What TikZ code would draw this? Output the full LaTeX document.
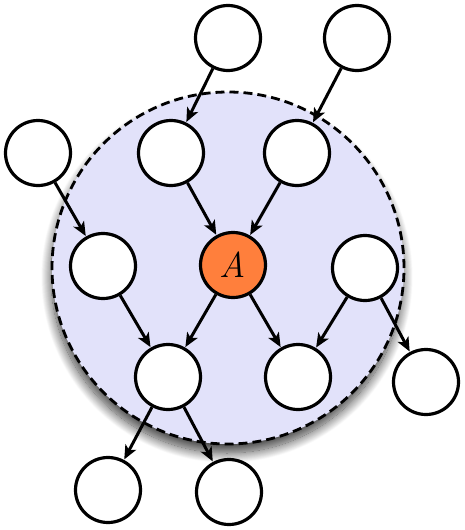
\documentclass[tikz,border=0pt]{standalone}
\usetikzlibrary{arrows.meta,shadows.blur}
\definecolor{blanket}{RGB}{226,226,250}
\definecolor{aorange}{RGB}{255,127,60}
\begin{document}
\begin{tikzpicture}[x=1pt,y=-1pt,
  var/.style={circle,draw=black,line width=3.2pt,fill=white,minimum size=65pt,inner sep=0pt},
  arr/.style={line width=3pt,-{Stealth[length=14pt,width=12pt,inset=3.5pt]},shorten >=0.5pt}]
\useasboundingbox (0,0) rectangle (464,530);
\fill[blanket,blur shadow={shadow xshift=-1pt,shadow yshift=-9pt,shadow blur radius=10pt,shadow blur steps=20,shadow opacity=75}] (228,268) circle[radius=176pt];
\draw[line width=2.8pt,dash pattern=on 9pt off 5pt] (228,268) circle[radius=176pt];
\node[var] (t1) at (228,38) {};
\node[var] (t2) at (357,38) {};
\node[var] (l1) at (38,153) {};
\node[var] (m1) at (171,153) {};
\node[var] (m2) at (297,153) {};
\node[var] (l2) at (103,266) {};
\node[var,fill=aorange] (a) at (233,265) {\fontsize{36}{36}\selectfont\itshape A};
\node[var] (r2) at (365,268) {};
\node[var] (b1) at (168,377) {};
\node[var] (b2) at (298,377) {};
\node[var] (r3) at (426,382) {};
\node[var] (d1) at (108,490) {};
\node[var] (d2) at (229,492) {};
\draw[arr] (t1) -- (m1);
\draw[arr] (t2) -- (m2);
\draw[arr] (l1) -- (l2);
\draw[arr] (m1) -- (a);
\draw[arr] (m2) -- (a);
\draw[arr] (l2) -- (b1);
\draw[arr] (a) -- (b1);
\draw[arr] (a) -- (b2);
\draw[arr] (r2) -- (b2);
\draw[arr] (r2) -- (r3);
\draw[arr] (b1) -- (d1);
\draw[arr] (b1) -- (d2);
\end{tikzpicture}
\end{document}
